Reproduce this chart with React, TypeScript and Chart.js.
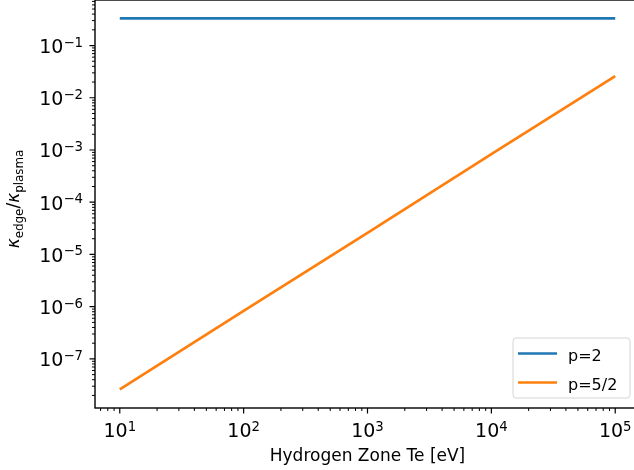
import { useEffect, useRef } from "react";
import { Chart, registerables } from "chart.js";

Chart.register(...registerables);

// Electron temperature samples (eV)
const temperatures = [10, 100, 1000, 10000, 100000];
// Conductivity ratio for each exponent p
const ratioP2 = [0.33, 0.33, 0.33, 0.33, 0.33];
const ratioP52 = [2.6e-8, 8.3e-7, 2.6e-5, 8.3e-4, 2.6e-2];
const seriesLabels = ["p=2", "p=5/2"];
const seriesColors = ["#1f77b4", "#ff7f0e"];

// Decade exponents that carry a tick label
const xTickExponents = [1, 2, 3, 4, 5];
const yTickExponents = [-7, -6, -5, -4, -3, -2, -1];

const xAxisTitle = "Hydrogen Zone Te [eV]";
const yAxisTitle = [
  { main: "κ", sub: "edge" },
  { main: "/", sub: "" },
  { main: "κ", sub: "plasma" },
];

const FONT = '"DejaVu Sans", sans-serif';
const TICK_FONT = 19;
const SUP_FONT = 13.3;
const LABEL_FONT = 17;
const LEGEND_FONT = 16;

function drawPower(
  ctx: CanvasRenderingContext2D,
  exp: number,
  x: number,
  y: number,
  align: "center" | "right"
) {
  const base = "10";
  const sup = exp < 0 ? "\u2212" + Math.abs(exp) : String(exp);
  ctx.font = `${TICK_FONT}px ${FONT}`;
  const wb = ctx.measureText(base).width;
  ctx.font = `${SUP_FONT}px ${FONT}`;
  const ws = ctx.measureText(sup).width;
  const total = wb + ws;
  const x0 = align === "center" ? x - total / 2 : x - total;
  ctx.textAlign = "left";
  ctx.textBaseline = "alphabetic";
  ctx.font = `${TICK_FONT}px ${FONT}`;
  ctx.fillText(base, x0, y);
  ctx.font = `${SUP_FONT}px ${FONT}`;
  ctx.fillText(sup, x0 + wb, y - 6.5);
}

function minorValues(min: number, max: number): number[] {
  const out: number[] = [];
  const e0 = Math.floor(Math.log10(min));
  const e1 = Math.ceil(Math.log10(max));
  for (let e = e0; e <= e1; e++) {
    for (let m = 2; m <= 9; m++) {
      const v = m * Math.pow(10, e);
      if (v >= min && v <= max) out.push(v);
    }
  }
  return out;
}

const axesPlugin = {
  id: "mplAxes",
  afterDraw(chart: any) {
    const ctx: CanvasRenderingContext2D = chart.ctx;
    const ca = chart.chartArea;
    const xs = chart.scales.x;
    const ys = chart.scales.y;
    ctx.save();
    ctx.fillStyle = "#000";
    ctx.strokeStyle = "#000";

    // frame
    ctx.lineWidth = 1.4;
    ctx.strokeRect(ca.left, ca.top, ca.right - ca.left, ca.bottom - ca.top);

    // x ticks
    ctx.lineWidth = 1.2;
    ctx.beginPath();
    for (const e of xTickExponents) {
      const px = xs.getPixelForValue(Math.pow(10, e));
      ctx.moveTo(px, ca.bottom);
      ctx.lineTo(px, ca.bottom + 5.5);
    }
    ctx.stroke();
    ctx.lineWidth = 1;
    ctx.beginPath();
    for (const v of minorValues(xs.min, xs.max)) {
      const px = xs.getPixelForValue(v);
      ctx.moveTo(px, ca.bottom);
      ctx.lineTo(px, ca.bottom + 3);
    }
    ctx.stroke();

    // y ticks
    ctx.lineWidth = 1.2;
    ctx.beginPath();
    for (const e of yTickExponents) {
      const py = ys.getPixelForValue(Math.pow(10, e));
      ctx.moveTo(ca.left, py);
      ctx.lineTo(ca.left - 5.5, py);
    }
    ctx.stroke();
    ctx.lineWidth = 1;
    ctx.beginPath();
    for (const v of minorValues(ys.min, ys.max)) {
      const py = ys.getPixelForValue(v);
      ctx.moveTo(ca.left, py);
      ctx.lineTo(ca.left - 3, py);
    }
    ctx.stroke();

    // tick labels
    for (const e of xTickExponents) {
      const px = xs.getPixelForValue(Math.pow(10, e));
      drawPower(ctx, e, px, ca.bottom + 29, "center");
    }
    for (const e of yTickExponents) {
      const py = ys.getPixelForValue(Math.pow(10, e));
      drawPower(ctx, e, ca.left - 12, py + 7.5, "right");
    }

    // x axis title
    ctx.font = `${LABEL_FONT}px ${FONT}`;
    ctx.textAlign = "center";
    ctx.textBaseline = "alphabetic";
    ctx.fillText(xAxisTitle, (ca.left + ca.right) / 2, ca.bottom + 53);

    // y axis title with subscripts
    const subSize = LABEL_FONT * 0.7;
    const pieces = yAxisTitle.map((p) => {
      const mainFont =
        p.main === "κ"
          ? `italic ${LABEL_FONT}px ${FONT}`
          : `${LABEL_FONT}px ${FONT}`;
      ctx.font = mainFont;
      const wm = ctx.measureText(p.main).width;
      ctx.font = `${subSize}px ${FONT}`;
      const wsb = p.sub ? ctx.measureText(p.sub).width : 0;
      return { ...p, mainFont, wm, wsb };
    });
    const totalW = pieces.reduce((s, p) => s + p.wm + p.wsb, 0);
    ctx.save();
    ctx.translate(18.5, (ca.top + ca.bottom) / 2 - 5);
    ctx.rotate(-Math.PI / 2);
    ctx.textAlign = "left";
    let cx = -totalW / 2;
    for (const p of pieces) {
      ctx.font = p.mainFont;
      ctx.fillText(p.main, cx, 0);
      cx += p.wm;
      if (p.sub) {
        ctx.font = `${subSize}px ${FONT}`;
        ctx.fillText(p.sub, cx, 4);
        cx += p.wsb;
      }
    }
    ctx.restore();

    // legend
    const bw = 117;
    const bh = 60;
    const bx = ca.right - 10 - bw;
    const by = ca.bottom - 10 - bh;
    ctx.beginPath();
    ctx.roundRect(bx, by, bw, bh, 3);
    ctx.fillStyle = "rgba(255,255,255,0.8)";
    ctx.fill();
    ctx.strokeStyle = "#d4d4d4";
    ctx.lineWidth = 1;
    ctx.stroke();
    const datasets = chart.data.datasets;
    datasets.forEach((ds: any, i: number) => {
      const ly = by + 15.5 + i * 29;
      ctx.beginPath();
      ctx.strokeStyle = ds.borderColor;
      ctx.lineWidth = 2.7;
      ctx.moveTo(bx + 5, ly);
      ctx.lineTo(bx + 44, ly);
      ctx.stroke();
      ctx.fillStyle = "#000";
      ctx.font = `${LEGEND_FONT}px ${FONT}`;
      ctx.textAlign = "left";
      ctx.fillText(ds.label, bx + 55, ly + 7);
    });

    ctx.restore();
  },
};

export default function App() {
  const canvasRef = useRef<HTMLCanvasElement | null>(null);

  useEffect(() => {
    const canvas = canvasRef.current;
    if (!canvas) return;
    const seriesValues = [ratioP2, ratioP52];
    const chart = new Chart(canvas, {
      type: "line",
      data: {
        datasets: seriesValues.map((vals, i) => ({
          label: seriesLabels[i],
          data: temperatures.map((t, j) => ({ x: t, y: vals[j] })),
          borderColor: seriesColors[i],
          backgroundColor: seriesColors[i],
          borderWidth: 2.7,
          pointRadius: 0,
          fill: false,
          tension: 0,
        })),
      },
      options: {
        animation: false,
        responsive: false,
        devicePixelRatio: 1,
        layout: { padding: { left: 0, right: 1, top: 0, bottom: 0 } },
        plugins: {
          legend: { display: false },
          tooltip: { enabled: false },
        },
        scales: {
          x: {
            type: "logarithmic",
            min: Math.pow(10, 0.8),
            max: Math.pow(10, 5.2),
            ticks: { display: false },
            grid: { display: false },
            border: { display: false },
            afterFit: (s: any) => {
              s.height = 62;
            },
          },
          y: {
            type: "logarithmic",
            min: Math.pow(10, -7.94),
            max: Math.pow(10, -0.128),
            ticks: { display: false },
            grid: { display: false },
            border: { display: false },
            afterFit: (s: any) => {
              s.width = 95;
            },
          },
        },
      } as any,
      plugins: [axesPlugin],
    });
    return () => chart.destroy();
  }, []);

  return (
    <div
      style={{
        position: "fixed",
        left: 0,
        top: 0,
        width: 634,
        height: 470,
        overflow: "hidden",
        background: "#fff",
      }}
    >
      <canvas
        ref={canvasRef}
        width={641}
        height={470}
        style={{ display: "block", width: 641, height: 470 }}
      />
    </div>
  );
}
